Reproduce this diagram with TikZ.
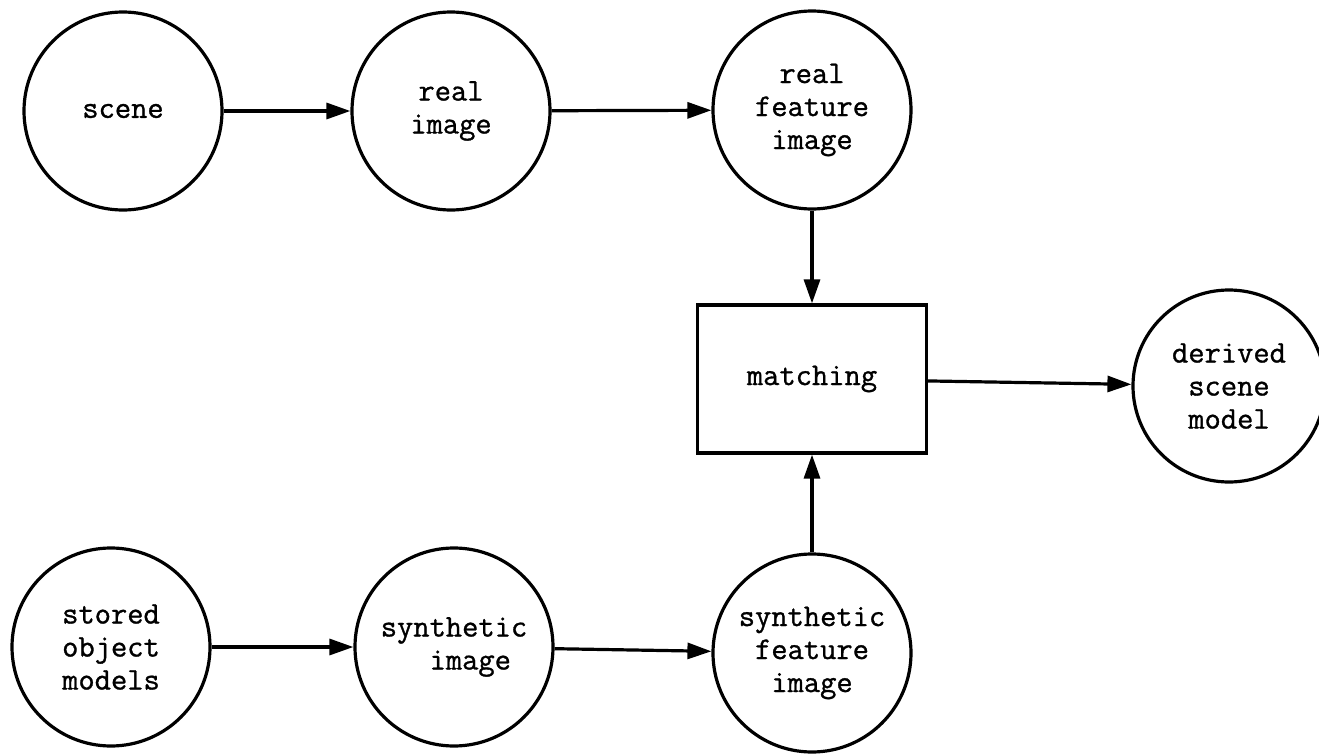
\documentclass[tikz,border=0pt]{standalone}
\usepackage{fontspec}
\newfontfamily\typer[FakeBold=1]{Latin Modern Mono}
\usepackage{tikz}
\usetikzlibrary{arrows.meta}

\begin{document}
\begin{tikzpicture}[x=0.5pt,y=-0.5pt,line width=1.6pt,
  every node/.style={font=\typer\fontsize{15.8}{16.5}\selectfont,align=center},
  blob/.style={draw,circle,minimum size=99pt,inner sep=0pt},
  box/.style={draw,rectangle,minimum width=114.5pt,minimum height=74pt},
  flow/.style={-{Triangle[length=12pt,width=8pt]}}]
\useasboundingbox (0,0) rectangle (1319,755);
\node[blob] (scene) at (123,111) {scene};
\node[blob] (realimg) at (451,111) {real\\image};
\node[blob] (realfeat) at (812,110) {real\\feature\\image};
\node[box] (match) at (812,379) {matching};
\node[blob,minimum size=96pt] (derived) at (1229,386) {derived\\scene\\model};
\node[blob] (stored) at (111,647) {stored\\object\\models};
\node[blob,align=left] (synimg) at (454,647) {synthetic\\\phantom{syn}image};
\node[blob] (synfeat) at (812,653) {synthetic\\feature\\image};
\draw[flow] (scene) -- (realimg);
\draw[flow] (realimg) -- (realfeat);
\draw[flow] (realfeat) -- (match);
\draw[flow] (match) -- (derived);
\draw[flow] (stored) -- (synimg);
\draw[flow] (synimg) -- (synfeat);
\draw[flow] (synfeat) -- (match);
\end{tikzpicture}
\end{document}
